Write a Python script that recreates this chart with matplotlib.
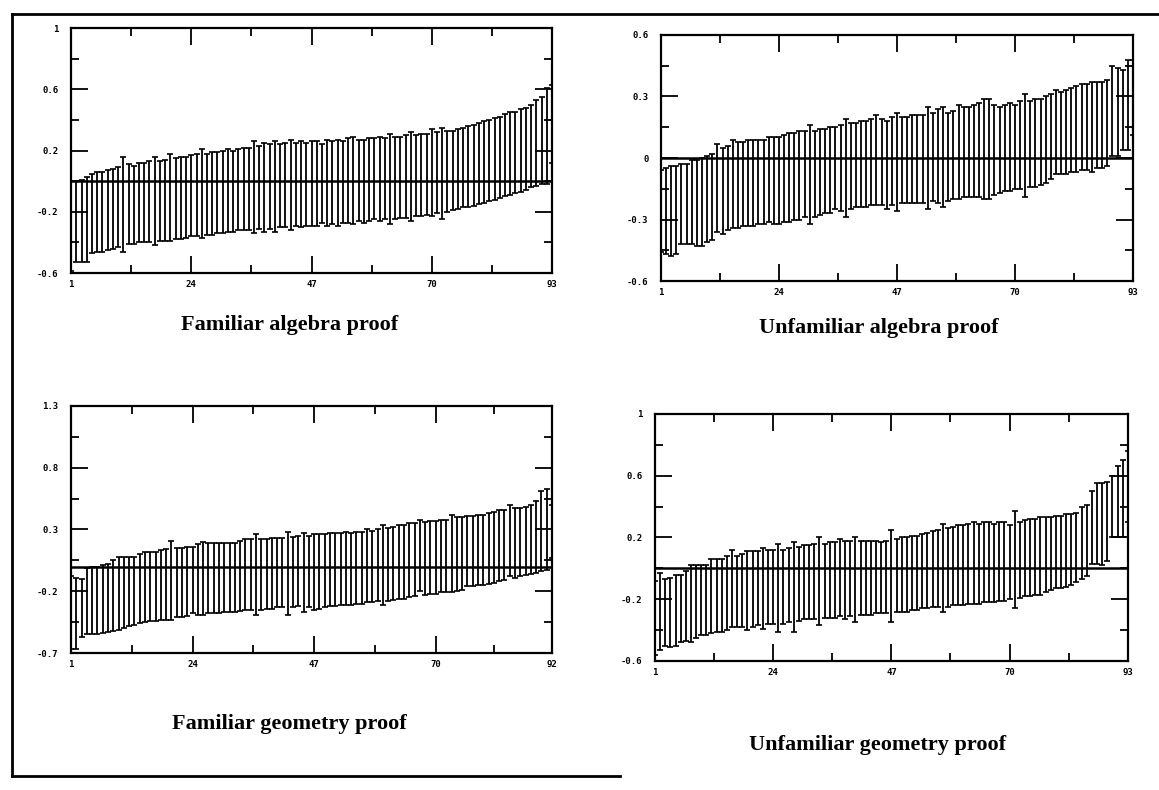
import matplotlib
matplotlib.use("Agg")
import matplotlib.pyplot as plt
from matplotlib.lines import Line2D
from matplotlib.ticker import FixedLocator
import numpy as np

plt.rcParams['axes.unicode_minus'] = False

# ---- data: interval ends ----
titles = ["Familiar algebra proof", "Unfamiliar algebra proof",
          "Familiar geometry proof", "Unfamiliar geometry proof"]

fam_alg_upper = [0.00, 0.00, 0.01, 0.03, 0.05, 0.06, 0.06, 0.07, 0.08, 0.09,
                 0.16, 0.11, 0.10, 0.12, 0.12, 0.13, 0.16, 0.13, 0.14, 0.18,
                 0.15, 0.16, 0.16, 0.17, 0.18, 0.21, 0.18, 0.19, 0.19, 0.20,
                 0.21, 0.20, 0.21, 0.22, 0.22, 0.26, 0.23, 0.25, 0.24, 0.26,
                 0.24, 0.25, 0.27, 0.25, 0.26, 0.25, 0.26, 0.26, 0.24, 0.27,
                 0.26, 0.27, 0.26, 0.28, 0.29, 0.27, 0.27, 0.28, 0.28, 0.29,
                 0.28, 0.31, 0.29, 0.29, 0.30, 0.32, 0.30, 0.31, 0.31, 0.34,
                 0.32, 0.35, 0.33, 0.33, 0.34, 0.35, 0.36, 0.37, 0.38, 0.39,
                 0.40, 0.41, 0.42, 0.44, 0.45, 0.45, 0.47, 0.48, 0.50, 0.53,
                 0.55, 0.61, 0.63]
fam_alg_lower = [-0.59, -0.53, -0.53, -0.53, -0.47, -0.46, -0.46, -0.45, -0.44, -0.43,
                 -0.46, -0.41, -0.41, -0.40, -0.40, -0.40, -0.42, -0.39, -0.39, -0.39,
                 -0.38, -0.38, -0.37, -0.36, -0.36, -0.37, -0.35, -0.35, -0.34, -0.34,
                 -0.33, -0.33, -0.32, -0.32, -0.32, -0.34, -0.31, -0.33, -0.31, -0.33,
                 -0.30, -0.30, -0.32, -0.29, -0.30, -0.29, -0.29, -0.29, -0.27, -0.29,
                 -0.28, -0.29, -0.27, -0.27, -0.28, -0.26, -0.27, -0.26, -0.25, -0.26,
                 -0.25, -0.28, -0.25, -0.24, -0.24, -0.26, -0.23, -0.23, -0.22, -0.23,
                 -0.21, -0.25, -0.20, -0.19, -0.18, -0.17, -0.17, -0.16, -0.15, -0.14,
                 -0.13, -0.12, -0.11, -0.10, -0.09, -0.08, -0.07, -0.06, -0.04, -0.03,
                 -0.02, -0.02, 0.12]

unf_alg_upper = [-0.06, -0.05, -0.04, -0.04, -0.03, -0.03, -0.01, -0.01, 0.00, 0.01,
                 0.02, 0.07, 0.05, 0.06, 0.09, 0.08, 0.08, 0.09, 0.09, 0.09,
                 0.09, 0.10, 0.10, 0.10, 0.11, 0.12, 0.12, 0.13, 0.13, 0.16,
                 0.13, 0.14, 0.14, 0.15, 0.15, 0.16, 0.19, 0.17, 0.17, 0.18,
                 0.18, 0.19, 0.21, 0.19, 0.18, 0.20, 0.22, 0.20, 0.20, 0.21,
                 0.21, 0.21, 0.25, 0.22, 0.24, 0.25, 0.22, 0.23, 0.26, 0.25,
                 0.25, 0.26, 0.27, 0.29, 0.29, 0.26, 0.25, 0.26, 0.27, 0.26,
                 0.28, 0.31, 0.28, 0.29, 0.29, 0.30, 0.31, 0.33, 0.32, 0.33,
                 0.34, 0.35, 0.36, 0.36, 0.37, 0.37, 0.37, 0.38, 0.45, 0.44,
                 0.43, 0.48, 0.48]
unf_alg_lower = [-0.46, -0.47, -0.48, -0.47, -0.42, -0.42, -0.42, -0.43, -0.43, -0.41,
                 -0.40, -0.36, -0.37, -0.35, -0.34, -0.34, -0.33, -0.33, -0.33, -0.32,
                 -0.32, -0.31, -0.32, -0.32, -0.31, -0.31, -0.30, -0.30, -0.29, -0.32,
                 -0.29, -0.28, -0.27, -0.27, -0.25, -0.26, -0.29, -0.25, -0.24, -0.24,
                 -0.24, -0.23, -0.23, -0.23, -0.25, -0.23, -0.26, -0.22, -0.22, -0.22,
                 -0.22, -0.22, -0.25, -0.21, -0.22, -0.24, -0.21, -0.20, -0.20, -0.19,
                 -0.19, -0.19, -0.19, -0.20, -0.20, -0.18, -0.17, -0.16, -0.16, -0.15,
                 -0.15, -0.19, -0.14, -0.14, -0.13, -0.12, -0.10, -0.08, -0.08, -0.08,
                 -0.07, -0.07, -0.06, -0.06, -0.07, -0.05, -0.05, -0.04, 0.01, 0.01,
                 0.04, 0.04, 0.11]

fam_geo_upper = [-0.08, -0.09, -0.10, -0.01, 0.00, 0.00, 0.01, 0.02, 0.05, 0.08,
                 0.08, 0.08, 0.08, 0.10, 0.12, 0.12, 0.12, 0.13, 0.14, 0.21,
                 0.15, 0.15, 0.16, 0.16, 0.18, 0.20, 0.19, 0.19, 0.19, 0.19,
                 0.19, 0.19, 0.21, 0.22, 0.22, 0.26, 0.22, 0.22, 0.23, 0.23,
                 0.23, 0.28, 0.24, 0.25, 0.27, 0.25, 0.26, 0.26, 0.26, 0.27,
                 0.27, 0.27, 0.28, 0.27, 0.28, 0.28, 0.30, 0.29, 0.30, 0.34,
                 0.31, 0.32, 0.34, 0.34, 0.35, 0.35, 0.38, 0.36, 0.37, 0.37,
                 0.38, 0.38, 0.42, 0.40, 0.40, 0.41, 0.41, 0.42, 0.42, 0.43,
                 0.44, 0.46, 0.46, 0.50, 0.47, 0.47, 0.48, 0.50, 0.53, 0.61,
                 0.63, 0.50]
fam_geo_lower = [-0.67, -0.67, -0.57, -0.55, -0.55, -0.55, -0.54, -0.53, -0.52, -0.51,
                 -0.50, -0.48, -0.47, -0.46, -0.45, -0.44, -0.44, -0.43, -0.43, -0.43,
                 -0.41, -0.41, -0.40, -0.38, -0.39, -0.39, -0.38, -0.38, -0.38, -0.37,
                 -0.37, -0.37, -0.36, -0.35, -0.35, -0.39, -0.35, -0.34, -0.34, -0.33,
                 -0.33, -0.39, -0.33, -0.32, -0.37, -0.33, -0.35, -0.34, -0.33, -0.32,
                 -0.32, -0.31, -0.31, -0.31, -0.30, -0.30, -0.29, -0.29, -0.28, -0.31,
                 -0.28, -0.27, -0.26, -0.26, -0.25, -0.24, -0.20, -0.23, -0.22, -0.22,
                 -0.21, -0.21, -0.21, -0.20, -0.19, -0.16, -0.16, -0.15, -0.15, -0.14,
                 -0.13, -0.12, -0.11, -0.08, -0.09, -0.08, -0.07, -0.06, -0.05, -0.04,
                 -0.03, 0.07]

unf_geo_upper = [-0.08, -0.03, -0.07, -0.06, -0.04, -0.04, -0.02, 0.02, 0.02, 0.02,
                 0.02, 0.06, 0.06, 0.06, 0.08, 0.12, 0.08, 0.09, 0.11, 0.11,
                 0.11, 0.13, 0.12, 0.12, 0.16, 0.12, 0.13, 0.17, 0.14, 0.15,
                 0.15, 0.16, 0.20, 0.16, 0.17, 0.17, 0.19, 0.18, 0.18, 0.20,
                 0.18, 0.18, 0.18, 0.18, 0.17, 0.18, 0.25, 0.19, 0.20, 0.20,
                 0.21, 0.21, 0.22, 0.23, 0.24, 0.25, 0.29, 0.26, 0.27, 0.28,
                 0.28, 0.29, 0.30, 0.29, 0.30, 0.30, 0.29, 0.30, 0.30, 0.28,
                 0.37, 0.30, 0.31, 0.32, 0.32, 0.33, 0.33, 0.33, 0.34, 0.34,
                 0.35, 0.35, 0.36, 0.40, 0.41, 0.50, 0.55, 0.55, 0.56, 0.60,
                 0.66, 0.70, 0.76]
unf_geo_lower = [-0.56, -0.53, -0.50, -0.51, -0.50, -0.48, -0.47, -0.48, -0.45, -0.43,
                 -0.43, -0.42, -0.41, -0.41, -0.40, -0.38, -0.38, -0.38, -0.40, -0.38,
                 -0.37, -0.39, -0.36, -0.36, -0.41, -0.36, -0.35, -0.41, -0.34, -0.33,
                 -0.33, -0.33, -0.37, -0.32, -0.32, -0.32, -0.31, -0.33, -0.31, -0.35,
                 -0.30, -0.30, -0.30, -0.29, -0.29, -0.29, -0.35, -0.28, -0.28, -0.28,
                 -0.27, -0.27, -0.26, -0.26, -0.25, -0.25, -0.28, -0.25, -0.24, -0.24,
                 -0.24, -0.23, -0.23, -0.23, -0.22, -0.22, -0.22, -0.21, -0.21, -0.20,
                 -0.26, -0.19, -0.18, -0.18, -0.17, -0.17, -0.15, -0.14, -0.13, -0.13,
                 -0.12, -0.11, -0.09, -0.07, -0.05, 0.03, 0.03, 0.02, 0.05, 0.20,
                 0.20, 0.20, 0.30]

# y axis limits and labelled ticks for each panel
y_limits = [(-0.6, 1.0), (-0.6, 0.6), (-0.7, 1.3), (-0.6, 1.0)]
y_labels = [["-0.6", "-0.2", "0.2", "0.6", "1"],
            ["-0.6", "-0.3", "0", "0.3", "0.6"],
            ["-0.7", "-0.2", "0.3", "0.8", "1.3"],
            ["-0.6", "-0.2", "0.2", "0.6", "1"]]
x_ticks = [[1, 24, 47, 70, 93], [1, 24, 47, 70, 93],
           [1, 24, 47, 70, 92], [1, 24, 47, 70, 93]]

uppers = [fam_alg_upper, unf_alg_upper, fam_geo_upper, unf_geo_upper]
lowers = [fam_alg_lower, unf_alg_lower, fam_geo_lower, unf_geo_lower]

# ---- layout (figure fractions) ----
axes_pos = [[0.0613, 0.6544, 0.4150, 0.3100],
            [0.5703, 0.6443, 0.4072, 0.3114],
            [0.0613, 0.1734, 0.4150, 0.3127],
            [0.5651, 0.1633, 0.4080, 0.3127]]
title_pos = [(0.250, 0.589), (0.758, 0.585), (0.250, 0.0835), (0.757, 0.057)]

fig = plt.figure(figsize=(11.59, 7.90), dpi=100)

tick_font = dict(family="DejaVu Sans Mono", weight="bold", size=6.5)

for i in range(4):
    ax = fig.add_axes(axes_pos[i])
    up = np.array(uppers[i])
    lo = np.array(lowers[i])
    x = np.arange(1, len(up) + 1)
    mid = (up + lo) / 2
    # caterpillar: one interval per item, caps nearly touching neighbours
    ax.errorbar(x, mid, yerr=[mid - lo, up - mid], fmt='none',
                ecolor='black', elinewidth=1.3, capsize=1.9, capthick=1.2)
    ax.axhline(0, color='black', lw=1.8)

    ax.set_xlim(1, x_ticks[i][-1])
    ax.set_ylim(*y_limits[i])

    yt = [float(v) for v in y_labels[i]]
    ax.yaxis.set_major_locator(FixedLocator(yt))
    ax.yaxis.set_minor_locator(FixedLocator([(a + b) / 2 for a, b in zip(yt[:-1], yt[1:])]))
    ax.set_yticklabels(y_labels[i], fontdict=tick_font)

    xt = x_ticks[i]
    ax.xaxis.set_major_locator(FixedLocator(xt))
    ax.xaxis.set_minor_locator(FixedLocator([(a + b) / 2 for a, b in zip(xt[:-1], xt[1:])]))
    ax.set_xticklabels([str(v) for v in xt], fontdict=tick_font)

    ax.tick_params(which='both', direction='in', top=True, right=True, width=1.3)
    ax.tick_params(which='major', length=12)
    ax.tick_params(which='minor', length=6)
    ax.tick_params(axis='y', which='major', pad=9)
    ax.tick_params(axis='x', which='major', pad=5)
    for s in ax.spines.values():
        s.set_linewidth(1.6)

    fig.text(title_pos[i][0], title_pos[i][1], titles[i], ha='center', va='center',
             family='Liberation Serif', weight='bold', size=16)

# scanned page frame
fig.add_artist(Line2D([12 / 1159, 1.0], [1 - 14 / 790, 1 - 14 / 790], color='black', lw=2))
fig.add_artist(Line2D([12 / 1159, 12 / 1159], [1 - 14 / 790, 1 - 776 / 790], color='black', lw=2))
fig.add_artist(Line2D([12 / 1159, 620 / 1159], [1 - 776 / 790, 1 - 776 / 790], color='black', lw=2))

fig.savefig("out.png", dpi=100)
